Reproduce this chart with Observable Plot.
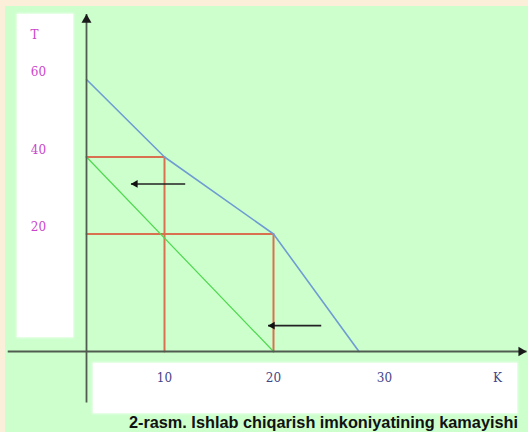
<!DOCTYPE html>
<html>
<head>
<meta charset="utf-8">
<script src="https://cdn.jsdelivr.net/npm/d3@7"></script>
<script src="https://cdn.jsdelivr.net/npm/@observablehq/plot@0.6"></script>
<style>
  body { margin: 0; background: #fbefd9; }
  #wrap { position: relative; width: 528px; height: 432px; background: #fbefd9; overflow: hidden; }
  #green { position: absolute; left: 5px; top: 6px; right: 0; bottom: 0; background: #ccffcc; }
  .panel { position: absolute; background: #ffffff; box-shadow: 0 0 2px 1px rgba(255,255,255,0.7); }
  #chart { position: absolute; left: 0; top: 0; }
  #caption { position: absolute; top: 413px; right: 10px; font: bold 16.3px "Liberation Sans", Arial, sans-serif; color: #111; white-space: nowrap; }
</style>
</head>
<body>
<div id="wrap">
  <div id="green"></div>
  <div class="panel" style="left:17px;top:14px;width:56px;height:323px"></div>
  <div class="panel" style="left:93px;top:363px;width:424px;height:50px"></div>
  <div id="chart"></div>
  <div id="caption">2-rasm. Ishlab chiqarish imkoniyatining kamayishi</div>
</div>
<script>
// ---- data (K = horizontal, T = vertical) ----
const kTicks = [10, 20, 30];
const tTicks = [20, 40, 60];
const kLabel = "K";
const tLabel = "T";

// red guide rectangles: corner points (K, T)
const redK = [10, 20];
const redT = [40, 20];

// green (shifted) line
const greenK = [0, 20];
const greenT = [40, 0];

// blue (original) production possibility line
const blueK = [0, 10, 20, 27.7];
const blueT = [60, 40, 20, 0];

// shift arrows (pointing left)
const arrowFromK = [11.9, 24.3];
const arrowToK = [5.7, 19.5];
const arrowT = [33, 4.4];

// axis extents
const kAxis = [-10.1, 42.8];
const tAxis = [-8.7, 76.9];

// ---- build tables ----
const redRows = [];
redK.forEach((k, i) => {
  redRows.push({k: 0, t: redT[i], g: i}, {k, t: redT[i], g: i}, {k, t: 0, g: i});
});
const greenRows = greenK.map((k, i) => ({k, t: greenT[i]}));
const blueRows = blueK.map((k, i) => ({k, t: blueT[i]}));
const arrows = arrowT.map((t, i) => ({k1: arrowFromK[i], k2: arrowToK[i], t}));

const axisCol = "#4f5c4f";
const tickFont = "DejaVu Serif, serif";
const chart = Plot.plot({
  width: 528,
  height: 411,
  margin: 0,
  style: {background: "transparent", overflow: "visible"},
  x: {type: "linear", domain: [0, 10, 20, 30], range: [86, 164, 273, 384], axis: null},
  y: {type: "linear", domain: [0, 20, 40, 60], range: [351, 233.5, 156.5, 79], axis: null},
  marks: [
    // red guides
    Plot.line(redRows, {x: "k", y: "t", z: "g", stroke: "#d9704f", strokeWidth: 2}),
    // green line
    Plot.line(greenRows, {x: "k", y: "t", stroke: "#4fd84f", strokeWidth: 1.2}),
    // blue line
    Plot.line(blueRows, {x: "k", y: "t", stroke: "#6f9cd2", strokeWidth: 1.6}),
    // axes
    Plot.link([0], {x1: kAxis[0], x2: kAxis[1], y1: 0, y2: 0, stroke: axisCol, strokeWidth: 1.8}),
    Plot.link([0], {x1: 0, x2: 0, y1: tAxis[0], y2: tAxis[1], stroke: axisCol, strokeWidth: 1.8}),
    Plot.dot([0], {x: 0, y: tAxis[1], symbol: "triangle", r: 3.7, fill: "#1a1a1a", stroke: "none", dy: 5.8}),
    Plot.dot([0], {x: kAxis[1], y: 0, symbol: "triangle", r: 3.5, fill: "#1a1a1a", stroke: "none", rotate: 90, dx: -5.4}),
    // shift arrows
    Plot.link(arrows, {x1: "k1", x2: "k2", y1: "t", y2: "t", stroke: "#222", strokeWidth: 1.6}),
    Plot.dot(arrows, {x: "k2", y: "t", symbol: "triangle", r: 2.9, fill: "#111", stroke: "none", rotate: -90, dx: 4.4}),
    // tick labels
    Plot.text(tTicks, {x: 0, y: d => d, text: d => String(d), dx: -48, dy: -7, fill: "#cc44cc", fontSize: 12, fontFamily: tickFont, textAnchor: "middle"}),
    Plot.text([tLabel], {x: 0, frameAnchor: "top", text: d => d, dx: -52, dy: 30, fill: "#cc44cc", fontSize: 12, fontFamily: tickFont, textAnchor: "middle"}),
    Plot.text(kTicks, {x: d => d, y: 0, text: d => String(d), dy: 27, fill: "#444488", fontSize: 12, fontFamily: tickFont, textAnchor: "middle"}),
    Plot.text([kLabel], {y: 0, frameAnchor: "right", text: d => d, dx: -31, dy: 27, fill: "#444488", fontSize: 12, fontFamily: tickFont, textAnchor: "middle"})
  ]
});
document.getElementById("chart").appendChild(chart);
</script>
</body>
</html>
